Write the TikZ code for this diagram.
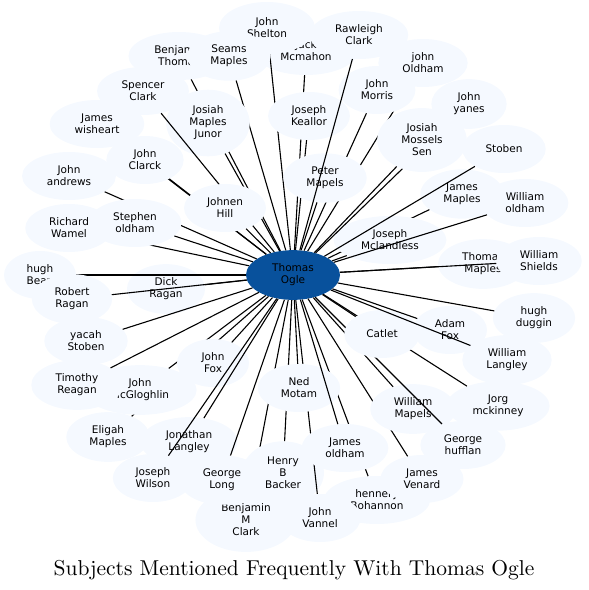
\documentclass[tikz,border=0pt]{standalone}
\usepackage{fontspec}
\usepackage{xcolor}
\usetikzlibrary{shapes.geometric}
\newfontfamily\labelfont{DejaVu Sans}
\newfontfamily\titlefont{lmroman10-regular}[Extension=.otf]
\definecolor{bubble}{RGB}{245,249,255}
\definecolor{hub}{RGB}{8,81,156}

\begin{document}
\begin{tikzpicture}
	[x=1pt, y=-1pt,
	main/.style = {ellipse, fill=bubble, align=center, inner xsep=11pt, inner ysep=6.5pt, minimum width=72pt, minimum height=48pt, font=\labelfont\fontsize{10.5}{12}\selectfont},
	link/.style = {line width=1.1pt}]
	\useasboundingbox (0,0) rectangle (589,590);
	\node[main, fill=hub, minimum width=94pt, minimum height=48pt] (0) at (293,275) {Thomas\\Ogle};
	\node[main] (1) at (166,289) {Dick\\Ragan};
	\draw[link] (0) -- (1);
	\node[main] (2) at (40,275) {hugh\\Bean};
	\draw[link] (0) -- (2);
	\node[main] (3) at (69,228) {Richard\\Wamel};
	\draw[link] (0) -- (3);
	\node[main] (4) at (69,176) {John\\andrews};
	\draw[link] (0) -- (4);
	\node[main] (5) at (135,223) {Stephen\\oldham};
	\draw[link] (0) -- (5);
	\node[main] (6) at (72,299) {Robert\\Ragan};
	\draw[link] (0) -- (6);
	\node[main] (7) at (86,341) {yacah\\Stoben};
	\draw[link] (0) -- (7);
	\node[main] (8) at (108,437) {Eligah\\Maples};
	\draw[link] (0) -- (8);
	\node[main] (9) at (140,390) {John\\McGloghlin};
	\draw[link] (0) -- (9);
	\node[main] (10) at (77,385) {Timothy\\Reagan};
	\draw[link] (0) -- (10);
	\node[main] (11) at (213,363) {John\\Fox};
	\draw[link] (0) -- (11);
	\node[main] (12) at (189,442) {Jonathan\\Langley};
	\draw[link] (0) -- (12);
	\node[main] (13) at (153,478) {Joseph\\Wilson};
	\draw[link] (0) -- (13);
	\node[main] (14) at (246,520) {Benjamin\\M\\Clark};
	\draw[link] (0) -- (14);
	\node[main] (15) at (222,480) {George\\Long};
	\draw[link] (0) -- (15);
	\node[main] (16) at (283,473) {Henry\\B\\Backer};
	\draw[link] (0) -- (16);
	\node[main] (17) at (377,500) {hennery\\Bohannon};
	\draw[link] (0) -- (17);
	\node[main] (18) at (320,518) {John\\Vannel};
	\draw[link] (0) -- (18);
	\node[main] (19) at (299,388) {Ned\\Motam};
	\draw[link] (0) -- (19);
	\node[main] (20) at (345,448) {James\\oldham};
	\draw[link] (0) -- (20);
	\node[main] (21) at (422,479) {James\\Venard};
	\draw[link] (0) -- (21);
	\node[main] (22) at (413,409) {William\\Mapels};
	\draw[link] (0) -- (22);
	\node[main] (23) at (463,445) {George\\hufflan};
	\draw[link] (0) -- (23);
	\node[main] (24) at (498,406) {Jorg\\mckinney};
	\draw[link] (0) -- (24);
	\node[main] (25) at (382,334) {Catlet};
	\draw[link] (0) -- (25);
	\node[main] (26) at (450,330) {Adam\\Fox};
	\draw[link] (0) -- (26);
	\node[main] (27) at (507,360) {William\\Langley};
	\draw[link] (0) -- (27);
	\node[main] (28) at (534,318) {hugh\\duggin};
	\draw[link] (0) -- (28);
	\node[main] (29) at (483,264) {Thomas\\Maples};
	\draw[link] (0) -- (29);
	\node[main] (30) at (539,261) {William\\Shields};
	\draw[link] (0) -- (30);
	\node[main] (31) at (462,194) {James\\Maples};
	\draw[link] (0) -- (31);
	\node[main] (32) at (390,240) {Joseph\\Mclandless};
	\draw[link] (0) -- (32);
	\node[main] (33) at (525,203) {William\\oldham};
	\draw[link] (0) -- (33);
	\node[main] (34) at (504,149) {Stoben};
	\draw[link] (0) -- (34);
	\node[main] (35) at (423,63) {john\\Oldham};
	\draw[link] (0) -- (35);
	\node[main] (36) at (469,104) {John\\yanes};
	\draw[link] (0) -- (36);
	\node[main] (37) at (422,140) {Josiah\\Mossels\\Sen};
	\draw[link] (0) -- (37);
	\node[main] (38) at (377,90) {John\\Morris};
	\draw[link] (0) -- (38);
	\node[main] (39) at (306,51) {Jack\\Mcmahon};
	\draw[link] (0) -- (39);
	\node[main, minimum width=96pt, minimum height=52pt] (40) at (267,28) {John\\Shelton};
	\draw[link] (0) -- (40);
	\node[main] (41) at (309,116) {Joseph\\Keallor};
	\draw[link] (0) -- (41);
	\node[main] (42) at (325,178) {Peter\\Mapels};
	\draw[link] (0) -- (42);
	\node[main] (43) at (359,35) {Rawleigh\\Clark};
	\draw[link] (0) -- (43);
	\node[main] (44) at (179,56) {Benjamin\\Thomas};
	\draw[link] (0) -- (44);
	\node[main] (45) at (229,56) {Seams\\Maples};
	\draw[link] (0) -- (45);
	\node[main] (46) at (208,123) {Josiah\\Maples\\Junor};
	\draw[link] (0) -- (46);
	\node[main] (47) at (143,91) {Spencer\\Clark};
	\draw[link] (0) -- (47);
	\node[main] (48) at (97,124) {James\\wisheart};
	\draw[link] (0) -- (48);
	\node[main] (49) at (145,160) {John\\Clarck};
	\draw[link] (0) -- (49);
	\node[main] (50) at (225,208) {Johnen\\Hill};
	\draw[link] (0) -- (50);
	\node[anchor=base] (title) at (294,575) {\titlefont\fontsize{21.5}{26}\selectfont Subjects Mentioned Frequently With Thomas Ogle};
\end{tikzpicture}
\end{document}
